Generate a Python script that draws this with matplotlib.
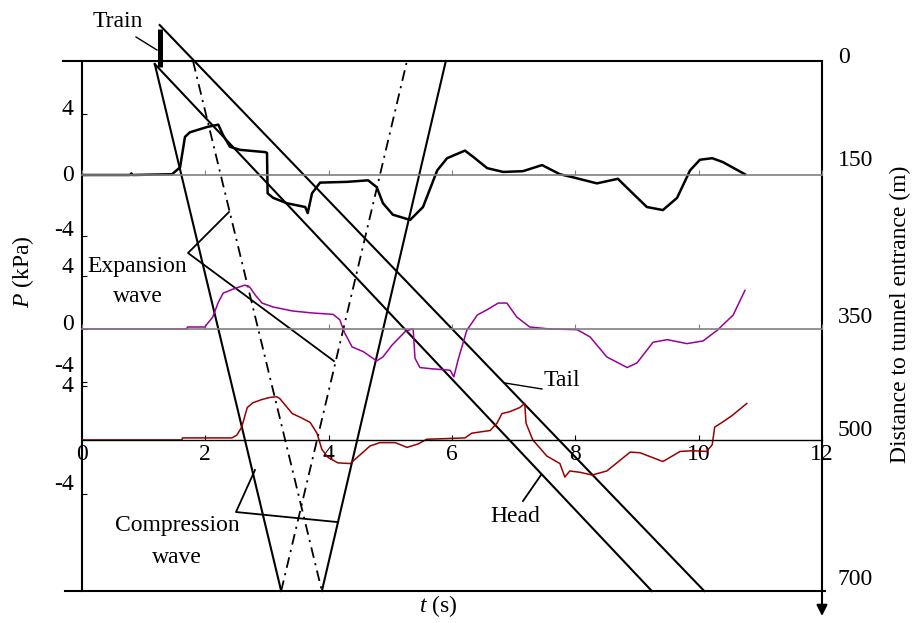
import matplotlib.pyplot as plt
from matplotlib.transforms import ScaledTranslation

plt.rcParams['font.family'] = 'Liberation Serif'
plt.rcParams['font.size'] = 17
plt.rcParams['axes.unicode_minus'] = False
plt.rcParams['mathtext.fontset'] = 'custom'
plt.rcParams['mathtext.rm'] = 'Liberation Serif'
plt.rcParams['mathtext.it'] = 'Liberation Serif:italic'

# pressure traces (t in s, p in kPa)
t_black = [0, 0.78, 0.80, 0.82, 1.46, 1.59, 1.67, 1.75, 2.03, 2.21, 2.29, 2.40, 2.56,
           2.97, 3.00, 3.01, 3.10, 3.32, 3.62, 3.66, 3.73, 3.86, 4.30, 4.64, 4.78, 4.88,
           5.04, 5.32, 5.53, 5.76, 5.92, 6.21, 6.34, 6.57, 6.83, 7.15, 7.46, 7.75, 7.96,
           8.35, 8.69, 8.93, 9.16, 9.42, 9.65, 9.86, 10.02, 10.22, 10.39, 10.75]
p_black = [0, 0, 0.1, 0, 0.05, 0.5, 2.5, 2.8, 3.15, 3.3, 2.6, 1.85, 1.65,
           1.5, 1.45, -1.2, -1.5, -1.85, -2.1, -2.5, -1.2, -0.5, -0.45, -0.35, -0.8, -1.85,
           -2.6, -2.95, -2.1, 0.3, 1.1, 1.6, 1.2, 0.45, 0.2, 0.25, 0.65, 0.05, -0.15,
           -0.55, -0.25, -1.2, -2.1, -2.3, -1.5, 0.3, 1.0, 1.1, 0.85, 0.05]

t_purple = [0, 1.70, 1.71, 1.99, 2.12, 2.21, 2.29, 2.45, 2.64, 2.72, 2.81, 2.92,
            3.10, 3.42, 3.75, 4.07, 4.18, 4.26, 4.38, 4.56, 4.78, 4.88,
            5.03, 5.24, 5.35, 5.37, 5.40, 5.48, 5.69, 5.97, 6.03, 6.10, 6.24, 6.41,
            6.57, 6.75, 6.89, 7.05, 7.26, 7.59, 8.03, 8.24, 8.51, 8.84,
            9.00, 9.26, 9.49, 9.81, 10.07, 10.30, 10.56, 10.75]
p_purple = [0, 0, 0.15, 0.15, 0.9, 2.0, 2.7, 3.0, 3.3, 3.15, 2.55, 1.95,
            1.65, 1.35, 1.2, 1.1, 0.7, -0.3, -1.35, -1.7, -2.4, -2.1,
            -1.2, -0.2, 0.0, 0.0, -2.2, -2.9, -3.0, -3.1, -3.6, -2.3, -0.1, 1.05,
            1.45, 1.95, 1.95, 0.9, 0.15, 0, -0.05, -0.6, -2.1, -2.9,
            -2.55, -1.0, -0.8, -1.1, -0.9, -0.1, 1.05, 2.9]

t_red = [0, 1.62, 1.63, 2.43, 2.51, 2.59, 2.68, 2.77, 2.92, 3.05, 3.16, 3.21, 3.41,
         3.53, 3.70, 3.81, 3.89, 3.99, 4.15, 4.35, 4.51, 4.67, 4.83, 5.08, 5.27, 5.45,
         5.59, 6.21, 6.32, 6.62, 6.73, 6.81, 6.94, 7.10, 7.18, 7.20, 7.31, 7.54, 7.75,
         7.83, 7.91, 8.08, 8.27, 8.51, 8.89, 9.05, 9.42, 9.70, 9.91, 10.13, 10.22,
         10.26, 10.38, 10.54, 10.78]
p_red = [0, 0, 0.15, 0.15, 0.35, 0.95, 2.4, 2.75, 3.0, 3.15, 3.2, 3.05, 1.95,
         1.7, 1.3, 0.5, -0.7, -1.3, -1.7, -1.75, -1.1, -0.45, -0.2, -0.2, -0.55, -0.3,
         0.05, 0.15, 0.5, 0.7, 1.25, 1.95, 2.1, 2.4, 2.7, 1.25, 0, -1.2, -1.75,
         -2.75, -2.3, -2.4, -2.6, -2.3, -0.9, -0.95, -1.6, -0.85, -0.8, -0.85, -0.35,
         0.95, 1.3, 1.8, 2.7]

# wave diagram lines (t in s, distance in m)
head_t, head_d = [1.18, 9.24], [4, 700]
tail_t, tail_d = [1.26, 10.09], [-47.5, 700]
comp_t, comp_d = [1.18, 3.23], [4, 700]
comp_ref_t, comp_ref_d = [3.89, 5.90], [700, 0]
exp_t, exp_d = [1.80, 3.89], [0, 700]
exp_ref_t, exp_ref_d = [3.23, 5.27], [700, 0]
train_t, train_d = [1.26, 1.26], [-42, 8]

dist_ticks = [0, 150, 350, 500, 700]
time_ticks = [0, 2, 4, 6, 8, 10, 12]


def lift(labels, px):
    # nudge tick labels upward by px pixels each, as in the source figure
    for lab, d in zip(labels, px):
        lab.set_transform(lab.get_transform() + ScaledTranslation(0, d / 100, fig.dpi_scale_trans))


fig = plt.figure(figsize=(9.17, 6.23), dpi=100)
pos = [82/917, 32/623, 740/917, 530/623]
ax = fig.add_axes(pos)
ax.set_xlim(0, 12)
ax.set_ylim(700, 0)
for s in ('top', 'right', 'bottom'):
    ax.spines[s].set_visible(False)
ax.spines['left'].set_linewidth(1.5)
ax.set_xticks([])
ax.yaxis.tick_right()
ax.set_yticks(dist_ticks)
ax.tick_params(axis='y', length=0, pad=11.5)
lift(ax.get_yticklabels(), [6, 17, 11, 12, 14])

lk = dict(color='black', lw=1.5, clip_on=False)
ax.plot([-0.31, 12], [0, 0], **lk)
ax.plot([-0.28, 12.05], [700, 700], **lk)
ax.annotate('', xy=(12, 733), xytext=(12, 0), annotation_clip=False,
            arrowprops=dict(arrowstyle='-|>', lw=1.5, color='black',
                            mutation_scale=16, shrinkA=0, shrinkB=0))
ax.plot(head_t, head_d, **lk)
ax.plot(tail_t, tail_d, **lk)
ax.plot(comp_t, comp_d, **lk)
ax.plot(comp_ref_t, comp_ref_d, **lk)
ax.plot(exp_t, exp_d, color='black', lw=1.3, ls=(0, (6, 3, 1.2, 3)), clip_on=False)
ax.plot(exp_ref_t, exp_ref_d, color='black', lw=1.3, ls=(0, (6, 3, 1.2, 3)), clip_on=False)
ax.plot(train_t, train_d, color='black', lw=3.6, solid_capstyle='butt', clip_on=False)

# annotations
ax.plot([0.876, 1.216], [-31.7, -14.5], color='black', lw=1, clip_on=False)
ax.text(0.584, -44.9, 'Train', ha='center', va='baseline')
ax.plot([2.384, 1.719, 4.086], [199.4, 253.6, 396.3], color='black', lw=1.3)
ax.text(0.892, 278.7, 'Expansion', ha='center', va='baseline')
ax.text(0.908, 318.3, 'wave', ha='center', va='baseline')
ax.plot([2.805, 2.497, 4.135], [540.2, 595.7, 608.9], color='black', lw=1.3)
ax.text(1.54, 620.8, 'Compression', ha='center', va='baseline')
ax.text(1.54, 663.1, 'wave', ha='center', va='baseline')
ax.plot([6.859, 7.459], [425.3, 433.2], color='black', lw=1)
ax.text(7.783, 429.3, 'Tail', ha='center', va='baseline')
ax.plot([7.443, 7.151], [546.8, 581.2], color='black', lw=1.3)
ax.text(7.021, 608.9, 'Head', ha='center', va='baseline')

ax.text(5.773, 727.8, '$t$ (s)', ha='center', va='baseline')
ax.text(-0.957, 278, '$P$ (kPa)', rotation=90, ha='center', va='center')
ax.text(13.28, 335, 'Distance to tunnel entrance (m)', rotation=90, ha='center', va='center')


def trace_axes(ylim, yticks, zero_color, zero_lw, label_lift):
    a = fig.add_axes(pos, facecolor='none')
    a.set_xlim(0, 12)
    a.set_ylim(*ylim)
    for s in ('top', 'right', 'left'):
        a.spines[s].set_visible(False)
    a.spines['bottom'].set_position(('data', 0))
    a.spines['bottom'].set_color(zero_color)
    a.spines['bottom'].set_linewidth(zero_lw)
    a.set_xticks(time_ticks)
    a.tick_params(axis='x', direction='in', length=3.6, color=zero_color, labelbottom=False)
    a.set_yticks(yticks)
    a.tick_params(axis='y', direction='in', length=3.6, pad=6)
    lift(a.get_yticklabels(), label_lift)
    return a


ax1 = trace_axes((-27.28, 7.475), [-4, 0, 4], '#808080', 1.2, [8, 2, 7])
ax1.plot(t_black, p_black, color='black', lw=1.8)

ax2 = trace_axes((-19.70, 20.15), [-4, 0, 4], '#808080', 1.2, [18, 7, 11])
ax2.plot(t_purple, p_purple, color='#990099', lw=1.1)

ax3 = trace_axes((-11.19, 28.07), [-4, 4], 'black', 1.0, [12, 2])
ax3.plot(t_red, p_red, color='#990000', lw=1.1)
ax3.tick_params(axis='x', labelbottom=True, pad=3)

fig.savefig('out.png', dpi=100)
